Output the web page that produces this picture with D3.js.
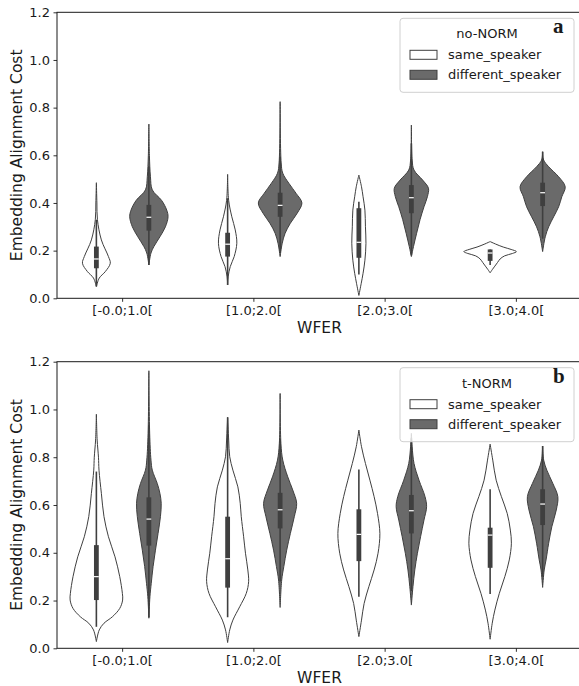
<!DOCTYPE html>
<html>
<head>
<meta charset="utf-8">
<script src="https://cdn.jsdelivr.net/npm/d3@7"></script>
<style>
  body { margin: 0; background: #fff; }
  svg text { font-family: "DejaVu Sans", sans-serif; fill: #1a1a1a; }
  svg text.letter { font-family: "Liberation Serif", serif; font-weight: bold; }
</style>
</head>
<body>
<div class="canvas"></div>
<script>
// categories and groups
const categories = ['[-0.0;1.0[', '[1.0;2.0[', '[2.0;3.0[', '[3.0;4.0['];
const hues = ['same_speaker', 'different_speaker'];
const yTicks = [0, 0.2, 0.4, 0.6, 0.8, 1.0, 1.2];

// violin profiles: [value, relative half-width], one list per category
const noNormSame = [
  [[0.485,0],[0.40,0.02],[0.33,0.04],[0.245,0.19],[0.175,0.46],[0.147,0.53],[0.112,0.34],[0.085,0.11],[0.049,0]],
  [[0.52,0],[0.41,0.04],[0.342,0.16],[0.287,0.29],[0.231,0.35],[0.175,0.25],[0.133,0.10],[0.09,0.02],[0.056,0]],
  [[0.517,0],[0.468,0.10],[0.426,0.16],[0.37,0.23],[0.30,0.25],[0.231,0.27],[0.16,0.23],[0.105,0.16],[0.063,0.09],[0.012,0]],
  [[0.238,0],[0.228,0.20],[0.215,0.50],[0.205,0.80],[0.196,1.0],[0.188,0.85],[0.178,0.55],[0.165,0.38],[0.15,0.28],[0.135,0.18],[0.12,0.08],[0.107,0]]
];
const noNormDiff = [
  [[0.731,0],[0.60,0.02],[0.51,0.06],[0.455,0.13],[0.41,0.49],[0.37,0.68],[0.342,0.73],[0.30,0.63],[0.258,0.42],[0.217,0.19],[0.19,0.08],[0.14,0]],
  [[0.825,0],[0.568,0.04],[0.525,0.10],[0.483,0.33],[0.44,0.61],[0.40,0.83],[0.357,0.65],[0.315,0.39],[0.273,0.19],[0.231,0.08],[0.175,0]],
  [[0.727,0],[0.58,0.03],[0.538,0.10],[0.496,0.43],[0.462,0.65],[0.426,0.61],[0.384,0.48],[0.33,0.33],[0.273,0.20],[0.217,0.08],[0.175,0]],
  [[0.615,0],[0.58,0.04],[0.552,0.23],[0.51,0.61],[0.468,0.86],[0.426,0.73],[0.384,0.61],[0.342,0.42],[0.30,0.23],[0.258,0.10],[0.196,0]]
];
const tNormSame = [
  [[0.98,0],[0.872,0.03],[0.80,0.08],[0.746,0.10],[0.649,0.19],[0.551,0.29],[0.467,0.46],[0.383,0.71],[0.30,0.89],[0.23,0.99],[0.202,1.0],[0.167,0.89],[0.132,0.61],[0.105,0.29],[0.077,0.11],[0.028,0]],
  [[0.967,0],[0.872,0.04],[0.802,0.08],[0.746,0.20],[0.676,0.39],[0.607,0.48],[0.551,0.52],[0.467,0.61],[0.398,0.68],[0.328,0.77],[0.279,0.80],[0.23,0.71],[0.174,0.46],[0.118,0.20],[0.077,0.08],[0.024,0]],
  [[0.914,0],[0.844,0.10],[0.774,0.25],[0.704,0.42],[0.635,0.58],[0.565,0.71],[0.481,0.80],[0.398,0.73],[0.328,0.58],[0.258,0.38],[0.188,0.20],[0.118,0.10],[0.049,0]],
  [[0.855,0],[0.788,0.10],[0.704,0.23],[0.635,0.43],[0.565,0.65],[0.495,0.77],[0.44,0.81],[0.37,0.73],[0.30,0.56],[0.23,0.35],[0.16,0.18],[0.105,0.08],[0.038,0]]
];
const tNormDiff = [
  [[1.162,0],[0.90,0.03],[0.788,0.08],[0.746,0.13],[0.69,0.32],[0.649,0.42],[0.607,0.47],[0.551,0.44],[0.481,0.35],[0.411,0.25],[0.342,0.16],[0.272,0.09],[0.216,0.04],[0.126,0]],
  [[1.067,0],[0.858,0.03],[0.788,0.10],[0.718,0.29],[0.663,0.48],[0.607,0.63],[0.551,0.54],[0.481,0.39],[0.411,0.25],[0.342,0.14],[0.286,0.06],[0.171,0]],
  [[0.90,0],[0.844,0.03],[0.774,0.10],[0.704,0.29],[0.635,0.52],[0.593,0.58],[0.537,0.48],[0.467,0.35],[0.398,0.23],[0.328,0.13],[0.258,0.06],[0.181,0]],
  [[0.847,0],[0.788,0.04],[0.746,0.16],[0.69,0.39],[0.635,0.58],[0.579,0.52],[0.509,0.35],[0.44,0.23],[0.37,0.13],[0.328,0.06],[0.255,0]]
];

// inner box stats: [whisker low, q1, median, q3, whisker high]
const noNormSameBox = [[0.05,0.126,0.165,0.217,0.33],[0.056,0.175,0.227,0.275,0.42],[0.10,0.17,0.235,0.378,0.405],[0.14,0.157,0.19,0.205,0.205]];
const noNormDiffBox = [[0.14,0.284,0.34,0.392,0.554],[0.19,0.342,0.39,0.443,0.595],[0.18,0.357,0.422,0.475,0.65],[0.25,0.387,0.443,0.485,0.615]];
const tNormSameBox = [[0.09,0.202,0.30,0.432,0.74],[0.13,0.254,0.375,0.551,0.967],[0.216,0.365,0.477,0.582,0.749],[0.227,0.337,0.474,0.505,0.666]];
const tNormDiffBox = [[0.13,0.43,0.541,0.632,0.935],[0.28,0.502,0.58,0.651,0.875],[0.24,0.481,0.576,0.642,0.88],[0.30,0.516,0.604,0.666,0.847]];

const width = 579, height = 686;
const left = 57, right = 582;
const fills = { same_speaker: '#ffffff', different_speaker: '#6a6a6a' };
const edge = '#3f3f3f';

const svg = d3.select('.canvas')
  .append('svg')
    .attr('width', width)
    .attr('height', height);

const x = d3.scaleBand()
  .domain(categories)
  .range([left, right]);

const xHue = d3.scaleBand()
  .domain(hues)
  .range([0, x.bandwidth()])
  .paddingOuter(0.25);

const w = d3.scaleLinear()
  .domain([0, 1])
  .range([0, xHue.bandwidth() / 2]);

const drawPanel = (top, bottom, sameP, diffP, sameB, diffB, title, letter) => {
  const y = d3.scaleLinear().domain([0, 1.2]).range([bottom, top]);
  const g = svg.append('g');

  const groups = [
    { hue: 'same_speaker', profiles: sameP, boxes: sameB },
    { hue: 'different_speaker', profiles: diffP, boxes: diffB }
  ];

  groups.forEach(grp => {
    categories.forEach((cat, i) => {
      const cx = x(cat) + xHue(grp.hue) + xHue.bandwidth() / 2;
      const area = d3.area()
        .y(d => y(d[0]))
        .x0(d => cx - w(d[1]))
        .x1(d => cx + w(d[1]))
        .curve(d3.curveCatmullRom);
      g.append('path')
        .attr('d', area(grp.profiles[i]))
        .attr('fill', fills[grp.hue])
        .attr('stroke', edge)
        .attr('stroke-width', 1);

      const b = grp.boxes[i];
      // whisker
      g.append('line')
        .attr('x1', cx).attr('x2', cx)
        .attr('y1', y(b[0])).attr('y2', y(b[4]))
        .attr('stroke', edge)
        .attr('stroke-width', 1.6);
      // box
      g.append('rect')
        .attr('x', cx - 2.4)
        .attr('width', 4.8)
        .attr('y', y(b[3]))
        .attr('height', y(b[1]) - y(b[3]))
        .attr('fill', edge);
      // median
      g.append('line')
        .attr('x1', cx - 2.4).attr('x2', cx + 2.4)
        .attr('y1', y(b[2])).attr('y2', y(b[2]))
        .attr('stroke', '#fff')
        .attr('stroke-width', 1.2);
    });
  });

  // axes
  const yAxis = d3.axisLeft(y)
    .tickValues(yTicks)
    .tickFormat(d3.format('.1f'))
    .tickSize(3.5)
    .tickPadding(3.5)
    .tickSizeOuter(0);
  const xAxis = d3.axisBottom(x)
    .tickSize(3.5)
    .tickPadding(3.5)
    .tickSizeOuter(0);

  const yAxisGroup = g.append('g')
    .attr('transform', `translate(${left}, 0)`)
    .call(yAxis);
  const xAxisGroup = g.append('g')
    .attr('transform', `translate(0, ${bottom})`)
    .call(xAxis);

  [yAxisGroup, xAxisGroup].forEach(ax => {
    ax.select('.domain').remove();
    ax.selectAll('.tick line').attr('stroke', '#1a1a1a').attr('stroke-width', 0.9);
    ax.selectAll('text')
      .attr('font-size', 13)
      .attr('font-family', 'DejaVu Sans')
      .attr('fill', '#1a1a1a');
  });

  // spines
  g.append('rect')
    .attr('x', left)
    .attr('y', top)
    .attr('width', right - left)
    .attr('height', bottom - top)
    .attr('fill', 'none')
    .attr('stroke', '#1a1a1a')
    .attr('stroke-width', 1);

  // axis labels
  g.append('text')
    .attr('transform', `translate(22, ${(top + bottom) / 2}) rotate(-90)`)
    .attr('text-anchor', 'middle')
    .attr('font-size', 15.5)
    .text('Embedding Alignment Cost');
  g.append('text')
    .attr('x', (left + right) / 2)
    .attr('y', bottom + 35)
    .attr('text-anchor', 'middle')
    .attr('font-size', 15.5)
    .text('WFER');

  // legend
  const lg = g.append('g').attr('transform', `translate(400, ${top + 6})`);
  lg.append('rect')
    .attr('width', 174)
    .attr('height', 74)
    .attr('rx', 3)
    .attr('fill', '#fff')
    .attr('fill-opacity', 0.8)
    .attr('stroke', '#d0d0d0')
    .attr('stroke-width', 1);
  lg.append('text')
    .attr('x', 87)
    .attr('y', 20)
    .attr('text-anchor', 'middle')
    .attr('font-size', 13)
    .text(title);
  hues.forEach((h, i) => {
    lg.append('rect')
      .attr('x', 10)
      .attr('y', 32 + i * 20)
      .attr('width', 27)
      .attr('height', 9)
      .attr('fill', fills[h])
      .attr('stroke', edge)
      .attr('stroke-width', 1);
    lg.append('text')
      .attr('x', 48)
      .attr('y', 41 + i * 20)
      .attr('font-size', 13)
      .text(h);
  });

  // panel letter
  g.append('text')
    .attr('class', 'letter')
    .attr('x', 553)
    .attr('y', top + 21)
    .attr('font-size', 21)
    .text(letter);
};

drawPanel(12.3, 298.3, noNormSame, noNormDiff, noNormSameBox, noNormDiffBox, 'no-NORM', 'a');
drawPanel(361.7, 648.3, tNormSame, tNormDiff, tNormSameBox, tNormDiffBox, 't-NORM', 'b');
</script>
</body>
</html>
